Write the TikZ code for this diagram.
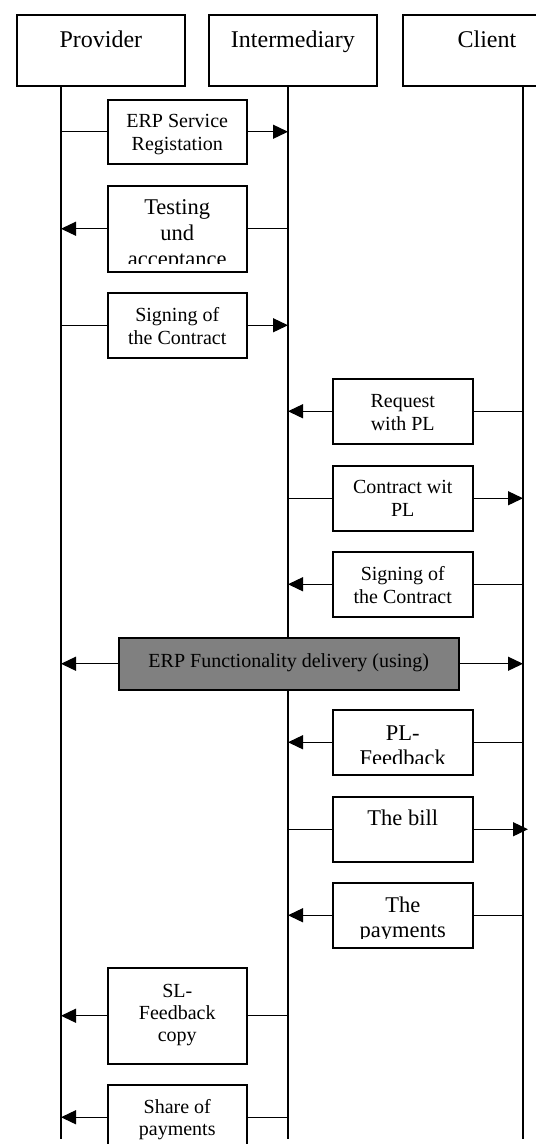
\documentclass[tikz,border=0pt]{standalone}
\usepackage{fontspec}
\setmainfont{Liberation Serif}
\usetikzlibrary{arrows.meta}
% centred lines, first baseline #2 below the top
\newcommand{\msglines}[3]{\parbox[t]{#1}{\centering\rule{0pt}{#2}#3}}

\begin{document}
\begin{tikzpicture}[x=1bp,y=-1bp,
  head/.style={draw, line width=1.8bp, fill=white, anchor=north west, inner sep=0,
               minimum width=168bp, minimum height=71bp},
  msg/.style={draw, line width=1.5bp, fill=white, anchor=north west, inner sep=0,
              minimum height=65bp},
  lbox/.style={msg, minimum width=139bp},
  rbox/.style={msg, minimum width=140bp},
  htxt/.style={anchor=north, inner sep=0, font=\fontsize{24bp}{28bp}\selectfont},
  mtxt/.style={anchor=north, inner sep=0, font=\fontsize{20bp}{23bp}\selectfont},
  btxt/.style={anchor=north, inner sep=0, font=\fontsize{22.5bp}{26bp}\selectfont},
  life/.style={line width=2bp},
  flow/.style={line width=1.3bp},
  sendto/.style={flow, -{Triangle[length=15bp,width=14bp]}}
]
\clip (0,0) rectangle (536,1144);
\fill[white] (0,0) rectangle (536,1144);

% lifeline ends
\coordinate (pEnd) at (61,1139);
\coordinate (iEnd) at (288,1139);
\coordinate (cEnd) at (523,1139);

% participants
\node[head] (prov) at (16,14) {};
\node[head] (inter) at (208,14) {};
\node[head] (cli) at (402,14) {};
\node[htxt] at (prov.north) {\msglines{168bp}{33bp}{Provider}};
\node[htxt] at (inter.north) {\msglines{168bp}{33bp}{Intermediary}};
\node[htxt] at (cli.north) {\msglines{168bp}{33bp}{Client}};

\draw[life] (prov.south -| pEnd) -- (pEnd);
\draw[life] (inter.south -| iEnd) -- (iEnd);
\draw[life] (cli.south -| cEnd) -- (cEnd);

% provider -> intermediary
\node[lbox, minimum height=64bp] (reg) at (107,99) {};
\node[mtxt] at (reg.north) {\msglines{139bp}{28bp}{ERP Service\\Registation}};
\draw[flow] (reg.west -| pEnd) -- (reg.west);
\draw[sendto] (reg.east) -- (reg.east -| iEnd);

% intermediary -> provider
\node[lbox, minimum height=86bp] (test) at (107,185) {};
\begin{scope}
  \clip (test.north west) rectangle ([yshift=9bp]test.south east);
  \node[btxt] at (test.north) {\msglines{139bp}{29bp}{Testing\\und\\acceptance}};
\end{scope}
\draw[flow] (test.east -| iEnd) -- (test.east);
\draw[sendto] (test.west) -- (test.west -| pEnd);

% provider -> intermediary
\node[lbox] (signA) at (107,292) {};
\node[mtxt] at (signA.north) {\msglines{139bp}{29bp}{Signing of\\the Contract}};
\draw[flow] (signA.west -| pEnd) -- (signA.west);
\draw[sendto] (signA.east) -- (signA.east -| iEnd);

% client -> intermediary
\node[rbox] (req) at (332,378) {};
\node[mtxt] at (req.north) {\msglines{140bp}{29bp}{Request\\with PL}};
\draw[flow] (req.east -| cEnd) -- (req.east);
\draw[sendto] (req.west) -- (req.west -| iEnd);

% intermediary -> client
\node[rbox] (cwpl) at (332,465) {};
\node[mtxt] at (cwpl.north) {\msglines{140bp}{28bp}{Contract wit\\PL}};
\draw[flow] (cwpl.west -| iEnd) -- (cwpl.west);
\draw[sendto] (cwpl.east) -- (cwpl.east -| cEnd);

% client -> intermediary
\node[rbox] (signB) at (332,551) {};
\node[mtxt] at (signB.north) {\msglines{140bp}{29bp}{Signing of\\the Contract}};
\draw[flow] (signB.east -| cEnd) -- (signB.east);
\draw[sendto] (signB.west) -- (signB.west -| iEnd);

% delivery to both ends
\node[msg, fill={rgb,255:red,128;green,128;blue,128}, minimum width=340bp, minimum height=52bp] (deliv) at (118,637) {};
\node[mtxt] at (deliv.north) {\msglines{340bp}{30bp}{ERP Functionality delivery (using)}};
\draw[sendto] (deliv.west) -- (deliv.west -| pEnd);
\draw[sendto] (deliv.east) -- (deliv.east -| cEnd);

% client -> intermediary
\node[rbox] (fb) at (332,709) {};
\begin{scope}
  \clip (fb.north west) rectangle ([yshift=12bp]fb.south east);
  \node[btxt, font=\fontsize{22.5bp}{25bp}\selectfont] at (fb.north) {\msglines{140bp}{31bp}{PL-\\Feedback}};
\end{scope}
\draw[flow] (fb.east -| cEnd) -- (fb.east);
\draw[sendto] (fb.west) -- (fb.west -| iEnd);

% intermediary -> client
\node[rbox] (bill) at (332,796) {};
\node[btxt] at (bill.north) {\msglines{140bp}{29bp}{The bill}};
\draw[flow] (bill.west -| iEnd) -- (bill.west);
\draw[sendto, shorten >=-5bp] (bill.east) -- (bill.east -| cEnd);

% client -> intermediary
\node[rbox] (pay) at (332,882) {};
\begin{scope}
  \clip (pay.north west) rectangle ([yshift=10bp]pay.south east);
  \node[btxt, font=\fontsize{22.5bp}{25bp}\selectfont] at (pay.north) {\msglines{140bp}{30bp}{The\\payments}};
\end{scope}
\draw[flow] (pay.east -| cEnd) -- (pay.east);
\draw[sendto] (pay.west) -- (pay.west -| iEnd);

% intermediary -> provider
\node[lbox, minimum height=96bp] (slfb) at (107,967) {};
\node[mtxt, font=\fontsize{20bp}{22bp}\selectfont] at (slfb.north) {\msglines{139bp}{30bp}{SL-\\Feedback\\copy}};
\draw[flow] (slfb.east -| iEnd) -- (slfb.east);
\draw[sendto] (slfb.west) -- (slfb.west -| pEnd);

\node[lbox] (share) at (107,1084) {};
\node[mtxt, font=\fontsize{20bp}{22bp}\selectfont] at (share.north) {\msglines{139bp}{29bp}{Share of\\payments}};
\draw[flow] (share.east -| iEnd) -- (share.east);
\draw[sendto] (share.west) -- (share.west -| pEnd);
\end{tikzpicture}
\end{document}
